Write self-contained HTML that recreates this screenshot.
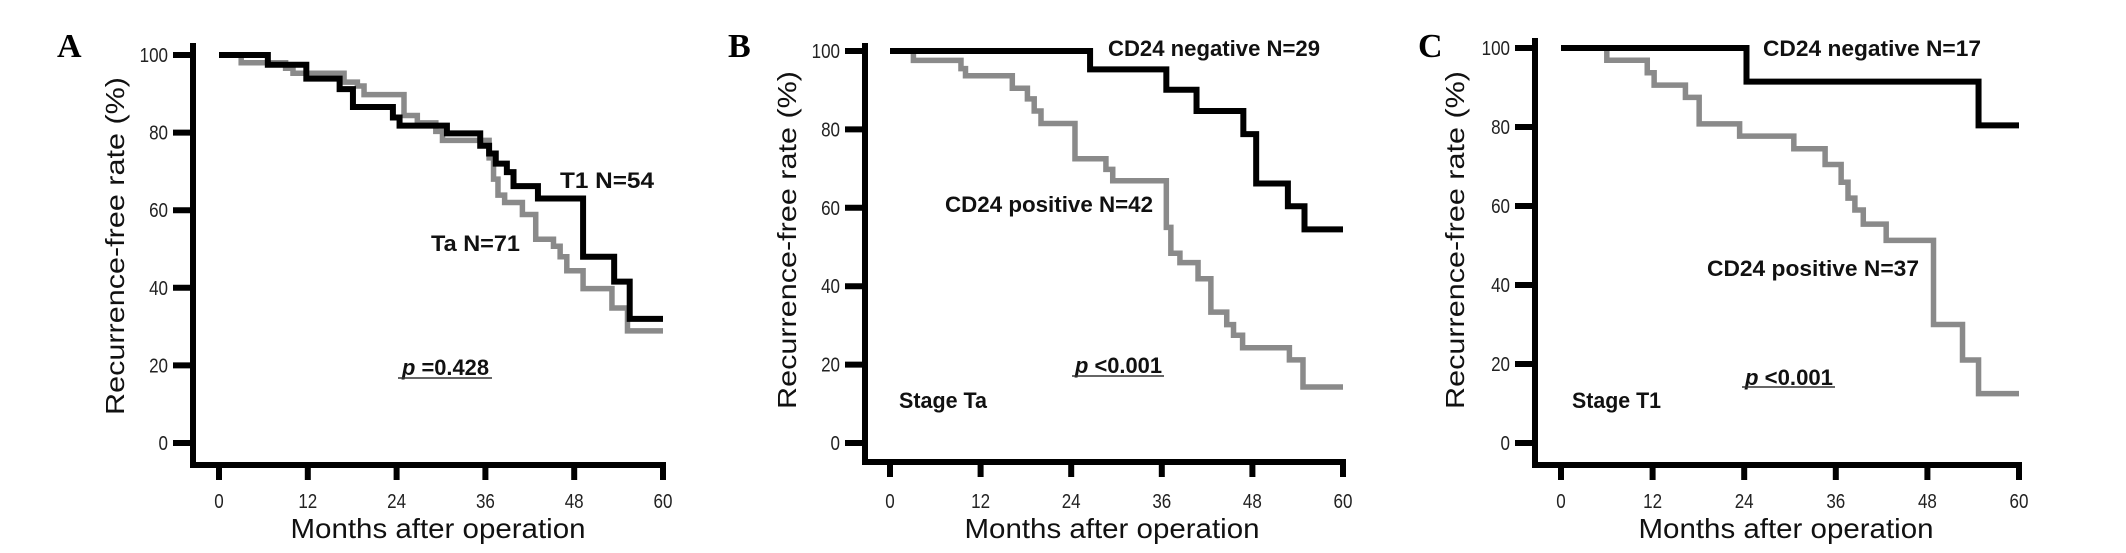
<!DOCTYPE html>
<html><head><meta charset="utf-8">
<style>
html,body{margin:0;padding:0;background:#fff;}
svg{display:block;}
text{font-family:"Liberation Sans",Arial,sans-serif;}
</style></head>
<body>
<svg id="fig" width="2126" height="553" viewBox="0 0 2126 553" xmlns="http://www.w3.org/2000/svg"></svg>
<script>
// ---- Data (months, recurrence-free %) ----
const xTicks = [0, 12, 24, 36, 48, 60];
const yTicks = [0, 20, 40, 60, 80, 100];

const aT1Months = [0, 6.6, 11.8, 16.3, 18.1, 23.5, 24.4, 30.8, 35.3, 36.5, 37.4, 38.9, 39.8, 43.1, 49.2, 53.4, 55.5, 60];
const aT1Values = [100, 97.5, 93.9, 91.2, 86.6, 83.9, 81.8, 79.8, 76.6, 74.6, 72, 69.8, 66.2, 63, 48, 41.6, 32, 32];
const aTaMonths = [0, 3, 9, 10, 16.9, 18.7, 19.6, 25, 26.8, 29.3, 30.2, 36.5, 37.1, 37.7, 38.6, 41, 42.8, 45.2, 46.1, 47, 49.2, 53.1, 55.2, 60];
const aTaValues = [100, 98, 96.6, 95.3, 93, 92, 89.8, 84.4, 82.5, 80.3, 78, 73.5, 68, 63.9, 62, 58.9, 52.5, 50.7, 48, 44.4, 39.8, 34.8, 28.9, 28.9];

const bNegMonths = [0, 26.5, 36.6, 40.6, 46.8, 48.5, 52.7, 54.9, 60];
const bNegValues = [100, 95.3, 90.1, 84.7, 78.8, 66.2, 60.4, 54.5, 54.5];
const bPosMonths = [0, 3.1, 9.4, 10, 16.2, 18.2, 19.1, 20, 24.5, 28.6, 29.5, 36.6, 37.2, 38.4, 40.8, 42.5, 44.6, 45.5, 46.7, 52.9, 54.7, 60];
const bPosValues = [100, 97.6, 95.5, 93.7, 90.5, 87.8, 84.7, 81.5, 72.5, 69.8, 66.9, 55, 48.4, 46, 41.9, 33.4, 30.2, 27.5, 24.3, 21.2, 14.3, 14.3];

const cNegMonths = [0, 24.3, 54.7, 60];
const cNegValues = [100, 91.5, 80.4, 80.4];
const cPosMonths = [0, 6, 11.3, 12.2, 16.3, 18.1, 23.4, 30.5, 34.6, 36.7, 37.6, 38.5, 39.6, 42.6, 48.8, 52.6, 54.7, 60];
const cPosValues = [100, 96.9, 93.75, 90.6, 87.5, 80.8, 77.7, 74.5, 70.5, 66, 62, 59, 55.4, 51.3, 30, 21, 12.5, 12.5];

const NS = "http://www.w3.org/2000/svg";
const svg = document.getElementById('fig');
function mk(tag, attrs, parent, txt){
  const e = document.createElementNS(NS, tag);
  for (const k in attrs) e.setAttribute(k, attrs[k]);
  if (txt !== undefined) e.textContent = txt;
  (parent || svg).appendChild(e);
  return e;
}

function panel(p){
  const g = mk('g', {});
  
  
  const sx = m => p.x0 + (m / 60) * (p.x60 - p.x0);
  const sy = v => p.y0 + (v / 100) * (p.y100 - p.y0);

  const letter = mk('text', {x: p.lx, y: p.ly, 'font-size': 34, 'font-weight': 'bold', style: 'font-family:"Liberation Serif",serif'}, g, p.id);
  
  

  const yAxis = mk('line', {x1: p.ax, y1: p.axTop, x2: p.ax, y2: p.axBot + 3, stroke: '#000', 'stroke-width': 6}, g);
  
  
  const xAxis = mk('line', {x1: p.ax - 3, y1: p.axBot, x2: p.x60 + 3, y2: p.axBot, stroke: '#000', 'stroke-width': 6}, g);
  
  

  yTicks.forEach(v => {
    const t = mk('line', {x1: p.ax - 20, y1: sy(v), x2: p.ax, y2: sy(v), stroke: '#000', 'stroke-width': 6}, g);
    
    
    const lx = p.ax - 25;
    const l = mk('text', {x: lx, y: sy(v) + 7, 'font-size': 20, 'text-anchor': 'end', fill: '#222', transform: `translate(${lx},0) scale(0.85,1) translate(${-lx},0)`}, g, String(v));
    
    
  });
  xTicks.forEach(m => {
    const t = mk('line', {x1: sx(m), y1: p.axBot, x2: sx(m), y2: p.axBot + 15, stroke: '#000', 'stroke-width': 6}, g);
    
    
    const tx = sx(m);
    const l = mk('text', {x: tx, y: 508, 'font-size': 20, 'text-anchor': 'middle', fill: '#222', transform: `translate(${tx},0) scale(0.85,1) translate(${-tx},0)`}, g, String(m));
    
    
  });

  const yt = mk('text', {x: 0, y: 0, 'font-size': 26, 'text-anchor': 'middle', fill: '#111', textLength: 338, lengthAdjust: 'spacingAndGlyphs', transform: `translate(${p.ytx},${p.yty}) rotate(-90)`}, g, 'Recurrence-free  rate   (%)');
  
  
  const xt = mk('text', {x: p.xtx, y: 538, 'font-size': 28, 'text-anchor': 'middle', fill: '#111', textLength: 295, lengthAdjust: 'spacingAndGlyphs'}, g, 'Months after operation');
  
  

  function step(ms, vs, color, w, name){
    let d = 'M' + sx(ms[0]) + ',' + sy(vs[0]);
    for (let i = 1; i < ms.length; i++){
      d += ' H' + sx(ms[i]) + ' V' + sy(vs[i]);
    }
    const path = mk('path', {d: d, fill: 'none', stroke: color, 'stroke-width': w, 'stroke-linejoin': 'miter', 'stroke-linecap': 'butt'}, g);
    
    
  }
  step(p.gM, p.gV, '#8a8a8a', 5.5, p.gName);
  step(p.bM, p.bV, '#000', 6, p.bName);

  p.labels.forEach(L => {
    const t = mk('text', {x: L.x, y: L.y + 8, 'font-size': 22, 'font-weight': 'bold', fill: '#111', textLength: L.w, lengthAdjust: 'spacingAndGlyphs', 'xml:space': 'preserve'}, g);
    if (L.p) {
      mk('tspan', {'font-style': 'italic'}, t, 'p');
      mk('tspan', {}, t, L.t);
    } else {
      t.textContent = L.t;
    }
    
    
    if (L.u) {
      const u = mk('line', {x1: L.u[0], y1: L.u[2], x2: L.u[1], y2: L.u[2], stroke: '#333', 'stroke-width': 1.5}, g);
      
      
    }
  });
}

panel({id:'A', lx:57, ly:57, ax:193, axTop:43, axBot:465, x0:219, x60:663, y0:443, y100:55, ytx:124, yty:246, xtx:438,
  gM:aTaMonths, gV:aTaValues, bM:aT1Months, bV:aT1Values, gName:'curve-ta', bName:'curve-t1',
  labels:[
    {t:'T1   N=54', x:560, y:180, w:94, n:'label-t1'},
    {t:'Ta   N=71', x:431, y:243, w:89, n:'label-ta'},
    {t:' =0.428', p:true, x:402, y:367, w:87, n:'p-value', u:[398,492,378]}
  ]});
panel({id:'B', lx:728, ly:57, ax:865, axTop:43, axBot:462, x0:890, x60:1343, y0:443, y100:51, ytx:796, yty:240, xtx:1112,
  gM:bPosMonths, gV:bPosValues, bM:bNegMonths, bV:bNegValues, gName:'curve-cd24-positive', bName:'curve-cd24-negative',
  labels:[
    {t:'CD24 negative  N=29', x:1108, y:48, w:212, n:'label-cd24-negative'},
    {t:'CD24 positive  N=42', x:945, y:204, w:208, n:'label-cd24-positive'},
    {t:' <0.001', p:true, x:1075, y:365, w:87, n:'p-value', u:[1072,1164,376]},
    {t:'Stage Ta', x:899, y:400, w:88, n:'stage-label'}
  ]});
panel({id:'C', lx:1418, ly:57, ax:1535, axTop:38, axBot:465, x0:1561, x60:2019, y0:443, y100:48, ytx:1464, yty:240, xtx:1786,
  gM:cPosMonths, gV:cPosValues, bM:cNegMonths, bV:cNegValues, gName:'curve-cd24-positive', bName:'curve-cd24-negative',
  labels:[
    {t:'CD24 negative  N=17', x:1763, y:48, w:218, n:'label-cd24-negative'},
    {t:'CD24 positive  N=37', x:1707, y:268, w:212, n:'label-cd24-positive'},
    {t:' <0.001', p:true, x:1745, y:377, w:88, n:'p-value', u:[1742,1835,387]},
    {t:'Stage T1', x:1572, y:400, w:89, n:'stage-label'}
  ]});
</script>
</body></html>
